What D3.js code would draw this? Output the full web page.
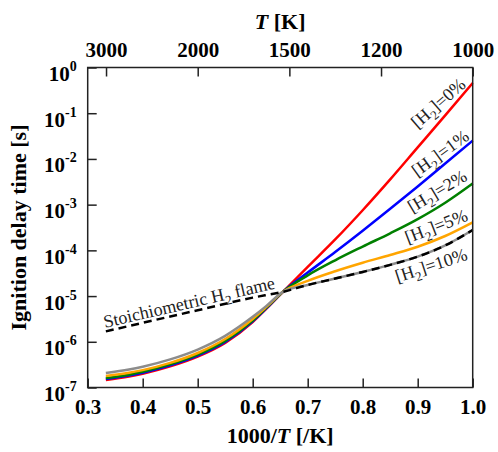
<!DOCTYPE html>
<html>
<head>
<meta charset="utf-8">
<script src="https://cdn.jsdelivr.net/npm/d3@7"></script>
<style>
  body { margin: 0; background: #fff; }
  svg { display: block; }
  text { font-family: 'Times New Roman', 'Liberation Serif', serif; }
</style>
</head>
<body>
<div id="chart"></div>
<script>
// 1000/T [1/K] grid shared by all curves
const invT = [0.333, 0.375, 0.4, 0.45, 0.5, 0.55, 0.6, 0.625, 0.655, 0.7, 0.75, 0.8, 0.85, 0.9, 0.95, 1.0];

// ignition delay time [s] per H2 fraction
const tau0 = [1.46e-7, 1.73e-7, 2.0e-7, 2.9e-7, 4.75e-7, 9.48e-7, 2.71e-6, 5.32e-6, 1.24e-5, 4.35e-5, 1.73e-4, 7.55e-4, 3.57e-3, 1.79e-2, 8.97e-2, 4.58e-1];
const tau1 = [1.53e-7, 1.82e-7, 2.1e-7, 3.05e-7, 5.0e-7, 9.98e-7, 2.81e-6, 5.43e-6, 1.24e-5, 3.26e-5, 9.18e-5, 2.68e-4, 8.09e-4, 2.5e-3, 7.91e-3, 2.51e-2];
const tau2 = [1.61e-7, 1.91e-7, 2.21e-7, 3.21e-7, 5.25e-7, 1.05e-6, 2.92e-6, 5.57e-6, 1.24e-5, 2.84e-5, 6.07e-5, 1.21e-4, 2.36e-4, 4.82e-4, 1.1e-3, 2.9e-3];
const tau5 = [1.78e-7, 2.1e-7, 2.4e-7, 3.46e-7, 5.69e-7, 1.15e-6, 3.16e-6, 5.79e-6, 1.24e-5, 2.15e-5, 3.49e-5, 5.35e-5, 7.91e-5, 1.2e-4, 2.06e-4, 4.1e-4];
const tau10 = [2.07e-7, 2.47e-7, 2.85e-7, 4.12e-7, 6.76e-7, 1.35e-6, 3.51e-6, 6.1e-6, 1.24e-5, 1.75e-5, 2.42e-5, 3.37e-5, 4.82e-5, 7.29e-5, 1.28e-4, 2.79e-4];

// stoichiometric H2 flame
const flameInvT = [0.333, 0.4, 0.5, 0.6, 0.655, 0.7, 0.75, 0.8, 0.85, 0.9, 0.95, 1.0];
const flameTau = [1.69e-6, 2.6e-6, 4.9e-6, 9.24e-6, 1.24e-5, 1.75e-5, 2.42e-5, 3.37e-5, 4.82e-5, 7.29e-5, 1.28e-4, 2.79e-4];

const seriesNames = ['0%', '1%', '2%', '5%', '10%'];
const seriesColors = ['#ff0000', '#0000ff', '#008000', '#ffa500', '#8c8c8c'];
const seriesValues = [tau0, tau1, tau2, tau5, tau10];

const xTicks = [0.3, 0.4, 0.5, 0.6, 0.7, 0.8, 0.9, 1.0];
const tempTicks = [3000, 2000, 1500, 1200, 1000];
const yTicks = [1e0, 1e-1, 1e-2, 1e-3, 1e-4, 1e-5, 1e-6, 1e-7];

const W = 498, H = 452;
const plot = { left: 87.7, right: 472.7, top: 67.5, bottom: 387.5 };
const axisColor = '#222';
const serif = "'Times New Roman', 'Liberation Serif', serif";

const x = d3.scaleLinear().domain([0.3, 1.0]).range([plot.left, plot.right]);
const y = d3.scaleLog().domain([1e-7, 1]).range([plot.bottom, plot.top]);

const svg = d3.select('#chart').append('svg')
  .attr('width', W)
  .attr('height', H);

// curves
const line = d3.line()
  .x((d) => x(d[0]))
  .y((d) => y(d[1]))
  .curve(d3.curveMonotoneX);

const curves = svg.append('g').attr('fill', 'none');
seriesValues.forEach((vals, i) => {
  curves.append('path')
    .attr('d', line(invT.map((v, j) => [v, vals[j]])))
    .attr('stroke', seriesColors[i])
    .attr('stroke-width', 2.5);
});

curves.append('path')
  .attr('d', line(flameInvT.map((v, j) => [v, flameTau[j]])))
  .attr('stroke', '#000')
  .attr('stroke-width', 2.5)
  .attr('stroke-dasharray', '8,5');

// axes
function styleAxis(g) {
  g.attr('font-family', serif);
  g.select('.domain').remove();
  g.selectAll('.tick line').attr('stroke', axisColor).attr('stroke-width', 1.5);
  g.selectAll('.tick text')
    .attr('fill', '#000')
    .style('font-family', serif)
    .style('font-weight', 'bold')
    .style('font-size', '21px');
}

svg.append('g')
  .attr('transform', `translate(0,${plot.bottom})`)
  .call(d3.axisBottom(x).tickValues(xTicks).tickFormat(d3.format('.1f')).tickSizeInner(-9).tickSizeOuter(0))
  .call(styleAxis)
  .call((g) => g.selectAll('.tick text').attr('y', 26.5).attr('dy', null));

svg.append('g')
  .attr('transform', `translate(0,${plot.top})`)
  .call(d3.axisTop(x).tickValues(tempTicks.map((t) => 1000 / t)).tickFormat((d, i) => tempTicks[i]).tickSizeInner(-9).tickSizeOuter(0))
  .call(styleAxis)
  .call((g) => g.selectAll('.tick text').attr('y', -11).attr('dy', null));

const yAxis = svg.append('g')
  .attr('transform', `translate(${plot.left},0)`)
  .call(d3.axisLeft(y).tickValues(yTicks).tickFormat('').tickSizeInner(-9).tickSizeOuter(0))
  .call(styleAxis);

yAxis.selectAll('.tick text').remove();
yAxis.selectAll('.tick').append('text')
  .attr('x', -11)
  .attr('y', 13)
  .attr('text-anchor', 'end')
  .attr('fill', '#000')
  .style('font-family', serif)
  .style('font-weight', 'bold')
  .style('font-size', '21px')
  .each(function (d) {
    const t = d3.select(this);
    t.append('tspan').text('10');
    t.append('tspan')
      .attr('dy', -10)
      .style('font-size', '14px')
      .text(Math.round(Math.log10(d)));
  });

// frame
svg.append('rect')
  .attr('x', plot.left)
  .attr('y', plot.top)
  .attr('width', plot.right - plot.left)
  .attr('height', plot.bottom - plot.top)
  .attr('fill', 'none')
  .attr('stroke', axisColor)
  .attr('stroke-width', 1.5);

// axis titles
const bottomTitle = svg.append('text')
  .attr('x', (plot.left + plot.right) / 2)
  .attr('y', 443)
  .attr('text-anchor', 'middle')
  .style('font-weight', 'bold')
  .style('font-size', '22px');
bottomTitle.append('tspan').text('1000/');
bottomTitle.append('tspan').style('font-style', 'italic').text('T');
bottomTitle.append('tspan').text(' [/K]');

const topTitle = svg.append('text')
  .attr('x', (plot.left + plot.right) / 2)
  .attr('y', 29)
  .attr('text-anchor', 'middle')
  .style('font-weight', 'bold')
  .style('font-size', '22px');
topTitle.append('tspan').style('font-style', 'italic').text('T');
topTitle.append('tspan').text(' [K]');

svg.append('text')
  .attr('transform', `translate(26,${(plot.top + plot.bottom) / 2}) rotate(-90)`)
  .attr('text-anchor', 'middle')
  .style('font-weight', 'bold')
  .style('font-size', '22px')
  .text('Ignition delay time [s]');

// curve labels
const labelPos = [
  { cx: 438, cy: 103, angle: -41 },
  { cx: 440, cy: 153, angle: -36 },
  { cx: 437, cy: 191, angle: -31 },
  { cx: 436, cy: 226, angle: -21 },
  { cx: 431, cy: 265, angle: -18 },
];

function h2Label(sel, before, after) {
  sel.append('tspan').text(before + 'H');
  sel.append('tspan').attr('dy', 5).style('font-size', '13px').text('2');
  sel.append('tspan').attr('dy', -5).text(after);
}

seriesNames.forEach((name, i) => {
  const p = labelPos[i];
  const t = svg.append('text')
    .attr('transform', `translate(${p.cx},${p.cy}) rotate(${p.angle})`)
    .attr('text-anchor', 'middle')
    .attr('dy', '0.35em')
    .style('font-size', '18px')
    .attr('fill', '#222');
  h2Label(t, '[', `]=${name}`);
});

const flameLabel = svg.append('text')
  .attr('transform', 'translate(189,302) rotate(-13)')
  .attr('text-anchor', 'middle')
  .attr('dy', '0.35em')
  .style('font-size', '18px')
  .attr('fill', '#222');
h2Label(flameLabel, 'Stoichiometric ', ' flame');
</script>
</body>
</html>
